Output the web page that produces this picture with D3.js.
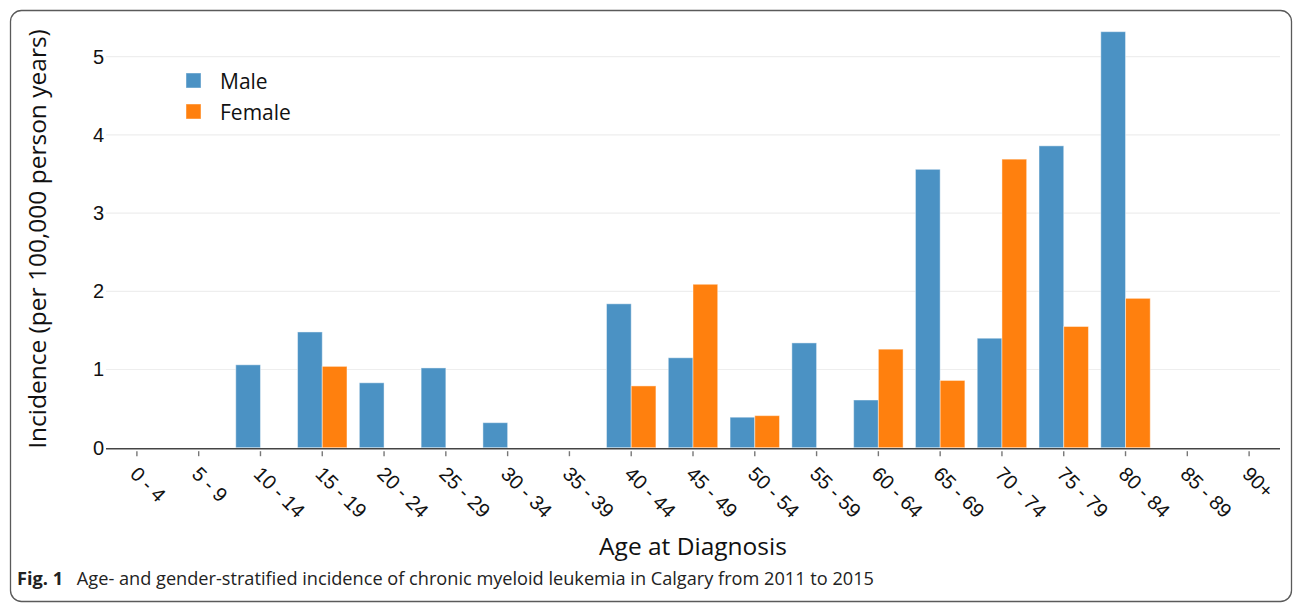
<!DOCTYPE html>
<html><head><meta charset="utf-8">
<script src="https://cdn.jsdelivr.net/npm/d3@7"></script>
<style>
html,body{margin:0;padding:0;background:#fff;}
svg{display:block;font-family:"Open Sans",sans-serif;}
</style></head>
<body>
<svg id="chart" width="1295" height="603"></svg>
<script>
const categories = ["0 - 4","5 - 9","10 - 14","15 - 19","20 - 24","25 - 29","30 - 34","35 - 39","40 - 44","45 - 49","50 - 54","55 - 59","60 - 64","65 - 69","70 - 74","75 - 79","80 - 84","85 - 89","90+"];
const maleValues   = [0,0,1.06,1.48,0.83,1.02,0.32,0,1.84,1.15,0.39,1.34,0.61,3.56,1.40,3.86,5.32,0,0];
const femaleValues = [0,0,0,1.04,0,0,0,0,0.79,2.09,0.41,0,1.26,0.86,3.69,1.55,1.91,0,0];
const yTicks = [0,1,2,3,4,5];
const seriesNames = ["Male","Female"];
const seriesColors = ["rgb(75,146,196)","rgb(255,128,14)"];

const svg = d3.select("#chart");

// frame
svg.append("rect").attr("x",10.5).attr("y",10.5).attr("width",1281).attr("height",591)
  .attr("rx",11).attr("fill","none").attr("stroke","#5a5a5a").attr("stroke-width",1.3);

const x0 = 106, x1 = 1280, yBase = 447.7, yTop5 = 56.7;
const x = d3.scaleBand().domain(categories).range([x0,x1]).padding(0);
const y = d3.scaleLinear().domain([0,5]).range([yBase,yTop5]);
const groupW = x.bandwidth()*0.8;
const xs = d3.scaleBand().domain(seriesNames).range([0,groupW]).padding(0);

// grid
svg.append("g").selectAll("line").data(yTicks.filter(d=>d>0)).join("line")
  .attr("x1",x0).attr("x2",x1).attr("y1",d=>y(d)).attr("y2",d=>y(d))
  .attr("stroke","#eeeeee").attr("stroke-width",1.2);

// bars
const data = [];
categories.forEach((c,i)=>{
  data.push({c, s:"Male", v:maleValues[i], col:seriesColors[0]});
  data.push({c, s:"Female", v:femaleValues[i], col:seriesColors[1]});
});
svg.append("g").selectAll("rect").data(data.filter(d=>d.v>0)).join("rect")
  .attr("x",d=>x(d.c)+(x.bandwidth()-groupW)/2+xs(d.s))
  .attr("width",xs.bandwidth())
  .attr("y",d=>y(d.v)).attr("height",d=>yBase-y(d.v))
  .attr("fill",d=>d.col)
  .attr("stroke","rgba(255,255,255,0.45)").attr("stroke-width",1);

// x axis
const xAxis = d3.axisBottom(x).tickSize(6).tickPadding(4);
const gx = svg.append("g").attr("transform",`translate(0,${yBase+1.5})`).call(xAxis);
gx.select(".domain").attr("d",`M${x0},-0.5H${x1}`).attr("stroke","#444").attr("stroke-width",1.6);
gx.selectAll(".tick line").attr("stroke","#777").attr("stroke-width",1.4).attr("y1",2).attr("y2",7);
gx.selectAll(".tick text")
  .attr("font-size",20).attr("fill","#111")
  .attr("text-anchor","start")
  .attr("transform","translate(-3,21) rotate(45)")
  .attr("y",0).attr("x",0).attr("dy","0.35em");

// y axis
const yAxis = d3.axisLeft(y).tickValues(yTicks).tickSize(0).tickPadding(10).tickFormat(d3.format("d"));
const gy = svg.append("g").attr("transform",`translate(${x0},0)`).call(yAxis);
gy.select(".domain").remove();
gy.selectAll(".tick text").attr("font-size",20).attr("fill","#111").attr("x",-2);

// axis titles
svg.append("text").attr("x",693).attr("y",555).attr("text-anchor","middle")
  .attr("font-size",24.5).attr("fill","#111").text("Age at Diagnosis");
svg.append("text").attr("transform","translate(46,239) rotate(-90)").attr("text-anchor","middle")
  .attr("font-size",24.5).attr("fill","#111").text("Incidence (per 100,000 person years)");

// legend
const lg = svg.append("g");
seriesNames.forEach((n,i)=>{
  lg.append("rect").attr("x",186).attr("y",73+i*31).attr("width",15).attr("height",15)
    .attr("fill",seriesColors[i]).attr("stroke","rgba(255,255,255,0.45)");
  lg.append("text").attr("x",220).attr("y",88.5+i*31).attr("font-size",21).attr("fill","#111").text(n);
});

// caption
const cap = svg.append("text").attr("x",17).attr("y",585).attr("font-size",17.5).attr("fill","#222")
  .attr("textLength",857).attr("lengthAdjust","spacingAndGlyphs");
cap.append("tspan").attr("font-weight","bold").text("Fig. 1");
cap.append("tspan").text("\u2002 Age- and gender-stratified incidence of chronic myeloid leukemia in Calgary from 2011 to 2015");
</script>
</body></html>
